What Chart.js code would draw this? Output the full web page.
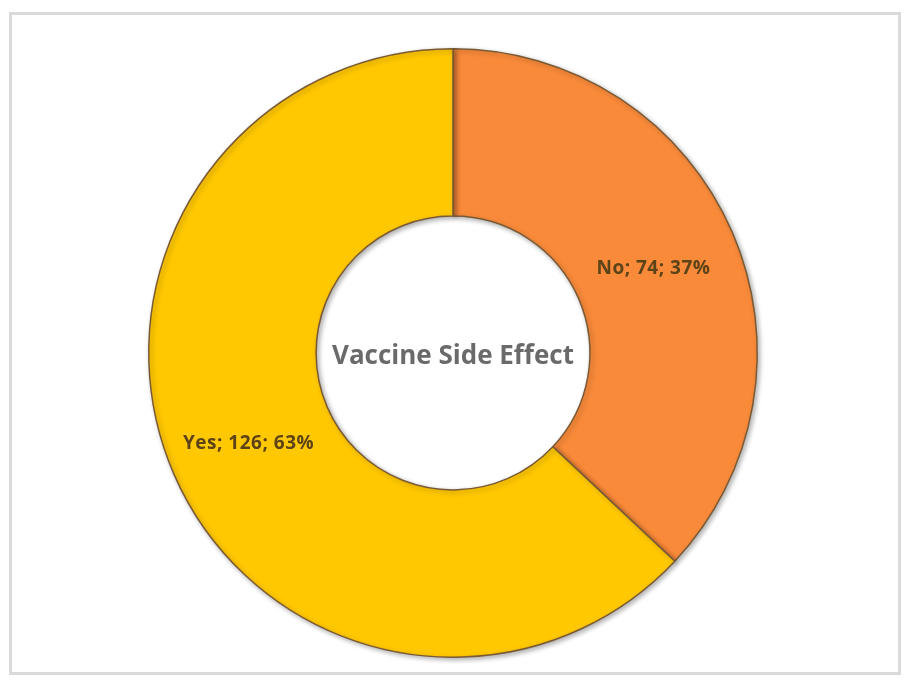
<!DOCTYPE html>
<html>
<head>
<meta charset="utf-8">
<script src="https://cdn.jsdelivr.net/npm/chart.js@4.4.1/dist/chart.umd.min.js"></script>
<style>
  html, body { margin: 0; padding: 0; background: #fff; }
  #wrap { position: relative; width: 909px; height: 682px; }
  #frame {
    position: absolute; left: 9px; top: 12px; width: 886px; height: 657px;
    border: 3px solid #dadada; box-sizing: content-box;
  }
  canvas { position: absolute; left: 0; top: 0; }
</style>
</head>
<body>
<div id="wrap">
  <div id="frame"></div>
  <canvas id="chart" width="909" height="682"></canvas>
</div>
<script>
// Chart data
const labels = ['No', 'Yes'];
const counts = [74, 126];
const percents = [37, 63];
const colors = ['#F98A3A', '#FFC800'];
const centerTitle = 'Vaccine Side Effect';

// Soft shadow under the ring, like the bevelled original
const ringShadow = {
  id: 'ringShadow',
  beforeDatasetsDraw(chart) {
    const ctx = chart.ctx;
    ctx.save();
    ctx.shadowColor = 'rgba(0, 0, 0, 0.3)';
    ctx.shadowBlur = 5;
    ctx.shadowOffsetX = 2;
    ctx.shadowOffsetY = 2;
  },
  afterDatasetsDraw(chart) {
    chart.ctx.restore();
  },
};

// Draws "Label; count; pct%" in each slice
const sliceLabels = {
  id: 'sliceLabels',
  afterDatasetsDraw(chart) {
    const ctx = chart.ctx;
    const meta = chart.getDatasetMeta(0);
    ctx.save();
    ctx.font = 'bold 19px "Open Sans", sans-serif';
    ctx.letterSpacing = '0.5px';
    ctx.fillStyle = '#5c4318';
    ctx.textAlign = 'center';
    ctx.textBaseline = 'middle';
    meta.data.forEach((arc, i) => {
      const pos = arc.tooltipPosition();
      ctx.fillText(labels[i] + '; ' + counts[i] + '; ' + percents[i] + '%', pos.x - 2, pos.y + 3);
    });
    ctx.restore();
  },
};

// Title in the hole
const centerText = {
  id: 'centerText',
  afterDraw(chart) {
    const ctx = chart.ctx;
    const arc = chart.getDatasetMeta(0).data[0];
    ctx.save();
    ctx.font = 'bold 26px "Open Sans", sans-serif';
    ctx.fillStyle = '#6a6a6a';
    ctx.textAlign = 'center';
    ctx.textBaseline = 'middle';
    ctx.fillText(centerTitle, arc.x, arc.y + 4);
    ctx.restore();
  },
};

new Chart(document.getElementById('chart'), {
  type: 'doughnut',
  data: {
    labels: labels,
    datasets: [
      {
        data: counts,
        backgroundColor: colors,
        borderColor: '#7a5a35',
        borderWidth: 1.5,
      },
    ],
  },
  options: {
    responsive: false,
    animation: false,
    cutout: '45%',
    layout: { padding: { top: 48, bottom: 24, left: 0, right: 3 } },
    plugins: {
      legend: { display: false },
      tooltip: { enabled: false },
    },
  },
  plugins: [ringShadow, sliceLabels, centerText],
});
</script>
</body>
</html>
